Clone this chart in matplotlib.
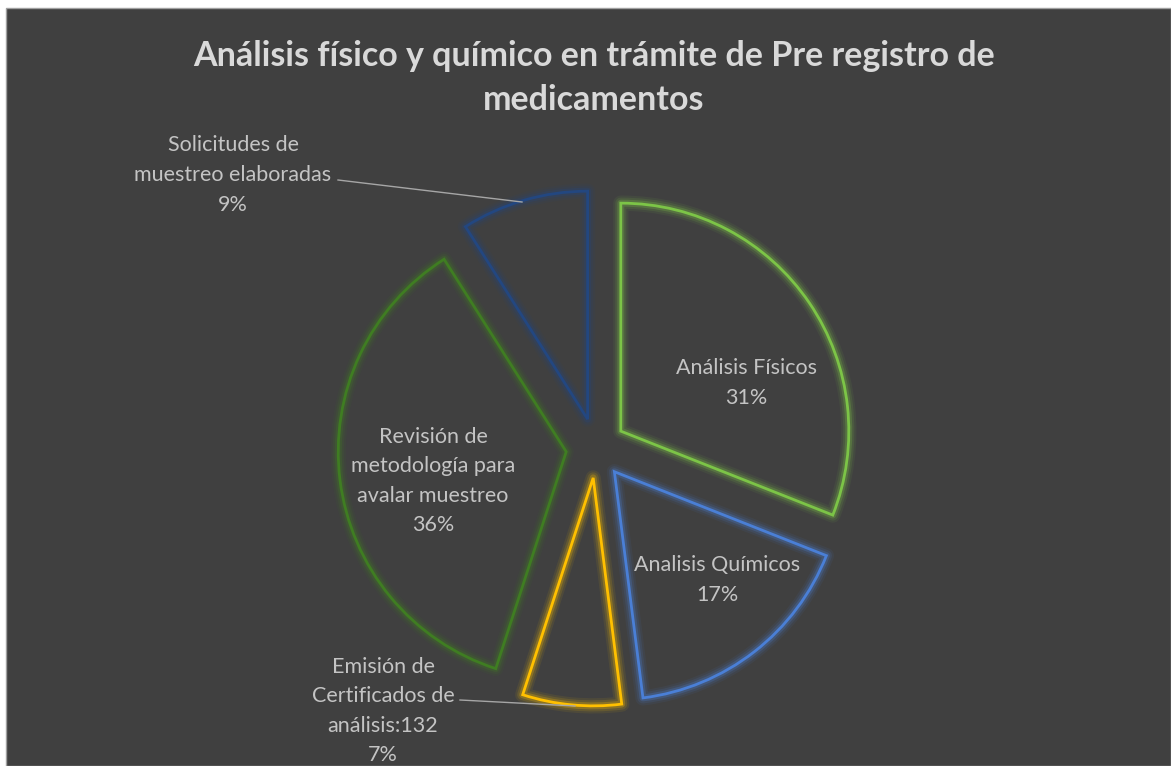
import matplotlib
matplotlib.use("Agg")
import matplotlib.pyplot as plt
import matplotlib.patheffects as pe
from matplotlib.patches import Rectangle

# ---- data ----
categories = ["Análisis Físicos", "Analisis Químicos",
              "Emisión de\nCertificados de\nanálisis:132",
              "Revisión de\nmetodología para\navalar muestreo",
              "Solicitudes de\nmuestreo elaboradas"]
percentages = [31, 17, 7, 36, 9]
colors = ["#7CC447", "#4A7FD6", "#FFC000", "#3F7D22", "#234780"]
title = "Análisis físico y químico en trámite de Pre registro de\nmedicamentos"

W, H = 1171, 766
fig = plt.figure(figsize=(W / 100, H / 100), dpi=100, facecolor="white")
ax = fig.add_axes([0, 0, 1, 1])

ax.add_patch(Rectangle((6, 0), W - 6, H - 8, facecolor="#404040",
                       edgecolor="#A0A0A0", linewidth=1, zorder=0))

FONT = ["Lato", "DejaVu Sans"]

cx, cy = 596, H - 448
R = 228
wedges, _ = ax.pie(percentages, radius=R, center=(cx, cy), startangle=90,
                   counterclock=False, explode=[30] * len(percentages),
                   colors=colors, frame=True,
                   wedgeprops=dict(fill=False, linewidth=2.0, joinstyle="miter"))
for w, c in zip(wedges, colors):
    w.set_edgecolor(c)
    w.set_zorder(2)
    w.set_path_effects([
        pe.Stroke(linewidth=11, foreground=c, alpha=0.08, joinstyle="round"),
        pe.Stroke(linewidth=8, foreground=c, alpha=0.13, joinstyle="round"),
        pe.Stroke(linewidth=5, foreground=c, alpha=0.25, joinstyle="round"),
        pe.Normal(),
    ])
ax.set_xlim(0, W)
ax.set_ylim(0, H)
ax.axis("off")

# labels
label_pos = [(746, 383), (717, 580), (383, 711), (433, 481), (233, 175)]
tc = "#C4C4C4"
for name, p, (x, y) in zip(categories, percentages, label_pos):
    ax.text(x, H - y, f"{name}\n{p}%", ha="center", va="center", color=tc,
            fontsize=15.5, family=FONT, linespacing=1.6, zorder=3)

# leader lines
ax.plot([338, 522], [H - 180, H - 202], color="#A6A6A6", lw=1.0, zorder=3)
ax.plot([460, 575], [H - 700, H - 706], color="#A6A6A6", lw=1.0, zorder=3)

ax.text(594, H - 78, title, ha="center", va="center", color="#D9D9D9",
        fontsize=24.5, fontweight="bold", family=FONT, linespacing=1.45)

fig.savefig("out.png", dpi=100, facecolor="white")
